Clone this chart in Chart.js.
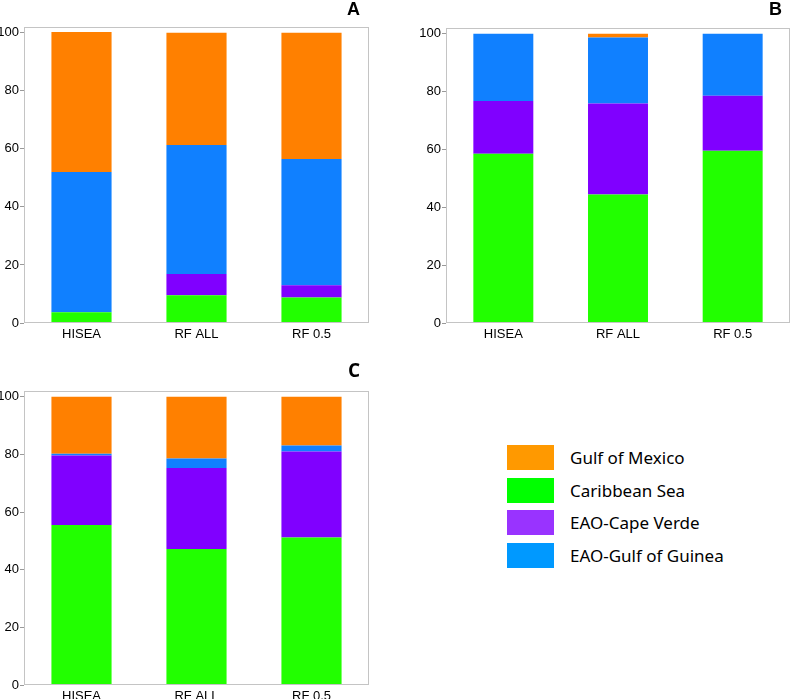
<!DOCTYPE html>
<html>
<head>
<meta charset="utf-8">
<script src="https://cdn.jsdelivr.net/npm/chart.js@4/dist/chart.umd.min.js"></script>
<style>
  body { margin: 0; background: #fff; width: 791px; height: 699px; overflow: hidden; position: relative; }
  .panel { position: absolute; }
  #legend { position: absolute; left: 507px; top: 445px; font-family: "Noto Sans", sans-serif; font-size: 17px; color: #000; }
  .row { position: relative; height: 32.5px; }
  .sw { position: absolute; left: 0; top: 0; width: 47px; height: 25px; }
  .lab { position: absolute; left: 63px; top: 0; line-height: 25px; white-space: nowrap; }
</style>
</head>
<body>
<div class="panel" style="left:0;top:0;width:395px;height:345px"><canvas id="chartA"></canvas></div>
<div class="panel" style="left:420px;top:0;width:371px;height:345px"><canvas id="chartB"></canvas></div>
<div class="panel" style="left:0;top:362px;width:395px;height:337px"><canvas id="chartC"></canvas></div>
<div id="legend"></div>
<script>
// categorias y series
const categories = ["HISEA", "RF ALL", "RF 0.5"];
const seriesNames = ["Caribbean Sea", "EAO-Cape Verde", "EAO-Gulf of Guinea", "Gulf of Mexico"];
const barColors = ["#22ff00", "#8000ff", "#1080ff", "#ff8000"];

// panel A (valores de cada segmento, de abajo hacia arriba)
const caribbeanA = [3.7, 9.6, 8.8];
const capeVerdeA = [0, 7.3, 4.2];
const guineaA = [48.3, 44.4, 43.5];
const mexicoA = [48.3, 38.7, 43.5];

// panel B
const caribbeanB = [58.5, 44.4, 59.6];
const capeVerdeB = [18.3, 31.5, 19.0];
const guineaB = [23.2, 22.8, 21.4];
const mexicoB = [0, 1.3, 0];

// panel C
const caribbeanC = [55.5, 47.2, 51.2];
const capeVerdeC = [24.1, 28.1, 29.8];
const guineaC = [0.6, 3.3, 2.1];
const mexicoC = [19.8, 21.4, 16.9];

const yTicks = [0, 20, 40, 60, 80, 100];

// leyenda
const legendNames = ["Gulf of Mexico", "Caribbean Sea", "EAO-Cape Verde", "EAO-Gulf of Guinea"];
const legendColors = ["#ff9900", "#00ff00", "#9933ff", "#0099ff"];

//Dibujo el borde del area y la letra del panel
const panelDeco = {
  id: "panelDeco",
  afterDraw(chart, args, opts) {
    const { ctx, chartArea } = chart;
    ctx.save();
    ctx.strokeStyle = "#c4c4c4";
    ctx.lineWidth = 1;
    ctx.strokeRect(chartArea.left + 0.5, chartArea.top + 0.5, chartArea.right - chartArea.left - 1, chartArea.bottom - chartArea.top - 1);
    ctx.fillStyle = "#000";
    ctx.font = opts.font;
    ctx.textAlign = "right";
    ctx.textBaseline = "alphabetic";
    ctx.fillText(opts.letter, chartArea.right - opts.dx, chartArea.top - opts.dy);
    ctx.restore();
  }
};

const makeChart = (id, values, pad, yWidth, xHeight, letter, letterFont, dx, dy) => {
  const datasets = values.map((data, i) => ({
    label: seriesNames[i],
    data: data,
    backgroundColor: barColors[i],
    borderWidth: 0,
    barPercentage: 0.523,
    categoryPercentage: 1
  }));
  return new Chart(document.getElementById(id), {
    type: "bar",
    data: { labels: categories, datasets },
    options: {
      responsive: true,
      maintainAspectRatio: false,
      animation: false,
      layout: { padding: pad },
      plugins: {
        legend: { display: false },
        tooltip: { enabled: false },
        panelDeco: { letter, font: letterFont, dx, dy }
      },
      scales: {
        x: {
          stacked: true,
          grid: { display: false, drawTicks: false },
          border: { display: false },
          ticks: { color: "#000", font: { family: "Liberation Sans", size: 13 }, padding: 4 },
          afterFit: (scale) => { scale.height = xHeight; }
        },
        y: {
          stacked: true,
          min: 0,
          max: 102,
          grid: { display: true, drawOnChartArea: false, drawTicks: true, tickLength: 4, color: "#999" },
          border: { display: false },
          ticks: { color: "#000", font: { family: "Liberation Sans", size: 13 }, padding: 1 },
          afterBuildTicks: (scale) => { scale.ticks = yTicks.map((v) => ({ value: v })); },
          afterFit: (scale) => { scale.width = yWidth; }
        }
      }
    },
    plugins: [panelDeco]
  });
};

makeChart("chartA", [caribbeanA, capeVerdeA, guineaA, mexicoA], { top: 27, right: 26, left: 0, bottom: 0 }, 24, 22, "A", "bold 18px 'Liberation Sans'", 9, 12);
makeChart("chartB", [caribbeanB, capeVerdeB, guineaB, mexicoB], { top: 28, right: 1, left: 0, bottom: 0 }, 26, 22, "B", "bold 18px 'Liberation Sans'", 8, 13);
makeChart("chartC", [caribbeanC, capeVerdeC, guineaC, mexicoC], { top: 29, right: 26, left: 0, bottom: 0 }, 24, 14, "C", "bold 19px 'Open Sans'", 9, 14);

//Renderizo la leyenda
const legendDiv = document.getElementById("legend");
legendDiv.innerHTML = legendNames.map((name, i) =>
  `<div class="row"><div class="sw" style="background:${legendColors[i]}"></div><div class="lab">${name}</div></div>`
).join("");
</script>
</body>
</html>
